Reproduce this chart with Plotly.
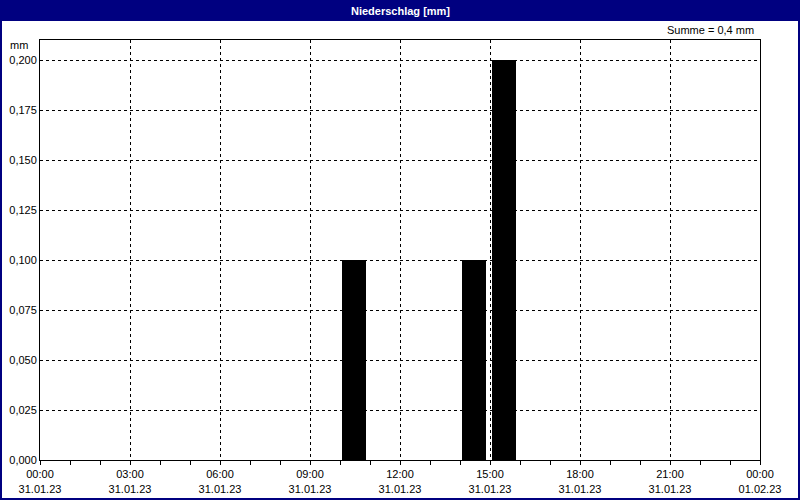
import plotly.graph_objects as go

# ---- data ----
hours = [f"2023-01-31 {h:02d}:00" for h in range(24)]
precip_mm = [0, 0, 0, 0, 0, 0, 0, 0, 0, 0, 0.1, 0, 0, 0, 0.1, 0.2, 0, 0, 0, 0, 0, 0, 0, 0]
title_text = "Niederschlag [mm]"
sum_text = "Summe = 0,4 mm"
y_unit = "mm"
x_start = "2023-01-31 00:00"
x_end = "2023-02-01 00:00"

W, H = 800, 500
L, R, T, B = 40, 40, 40, 40
pw, ph = W - L - R, H - T - B

def px(x):
    return (x - L) / pw

def py(y):
    return (H - B - y) / ph

FONT = "Liberation Sans"
NAVY = "#000080"

fig = go.Figure()
fig.add_trace(go.Bar(
    x=hours, y=precip_mm,
    marker=dict(color="#000000", line=dict(width=0)),
    width=48 * 60 * 1000, offset=4 * 60 * 1000,
    hoverinfo="x+y",
))

fig.update_layout(
    width=W, height=H,
    margin=dict(l=L, r=R, t=T, b=B, autoexpand=False),
    paper_bgcolor="white", plot_bgcolor="white",
    separators=",.",
    showlegend=False,
    bargap=0,
    font=dict(family=FONT, size=11, color="black"),
    xaxis=dict(
        type="date", range=[x_start, x_end],
        dtick=3 * 3600 * 1000, tick0=x_start,
        tickformat="%H:%M<br>%d.%m.%y",
        ticks="outside", ticklen=4, tickcolor="black",
        minor=dict(dtick=3600 * 1000, ticks="outside", ticklen=4, tickcolor="black", showgrid=False),
        showgrid=True, gridcolor="black", griddash="3px,3px", gridwidth=1,
        showline=True, linecolor="black", linewidth=1, mirror=True,
        zeroline=False, fixedrange=True, automargin=False,
        ticklabelstandoff=0,
        tickfont=dict(family=FONT, size=11),
    ),
    yaxis=dict(
        range=[0, 0.21], dtick=0.025, tick0=0,
        tickformat=".3f",
        ticks="", showgrid=True, gridcolor="black", griddash="3px,3px", gridwidth=1,
        showline=True, linecolor="black", linewidth=1, mirror=True,
        zeroline=False, fixedrange=True, automargin=False,
        tickfont=dict(family=FONT, size=11),
    ),
    shapes=[
        dict(type="rect", xref="paper", yref="paper",
             x0=px(0), x1=px(W), y0=py(21), y1=py(0),
             fillcolor=NAVY, line=dict(width=0), layer="above"),
        dict(type="rect", xref="paper", yref="paper",
             x0=px(1), x1=px(W - 1), y0=py(H - 1), y1=py(1),
             fillcolor="rgba(0,0,0,0)", line=dict(color=NAVY, width=2), layer="above"),
    ],
    annotations=[
        dict(text=f"<b>{title_text}</b>", xref="paper", yref="paper",
             x=px(W / 2), y=py(10.5), showarrow=False,
             xanchor="center", yanchor="middle",
             font=dict(family=FONT, size=11, color="white")),
        dict(text=sum_text, xref="paper", yref="paper",
             x=px(756), y=py(30), showarrow=False,
             xanchor="right", yanchor="middle",
             font=dict(family=FONT, size=11, color="black")),
        dict(text=y_unit, xref="paper", yref="paper",
             x=px(30), y=py(45), showarrow=False,
             xanchor="right", yanchor="middle",
             font=dict(family=FONT, size=11, color="black")),
    ],
)

fig.write_html("out.html", config={"displayModeBar": False},
               post_script="document.body.style.margin='0';document.body.style.padding='0';")
